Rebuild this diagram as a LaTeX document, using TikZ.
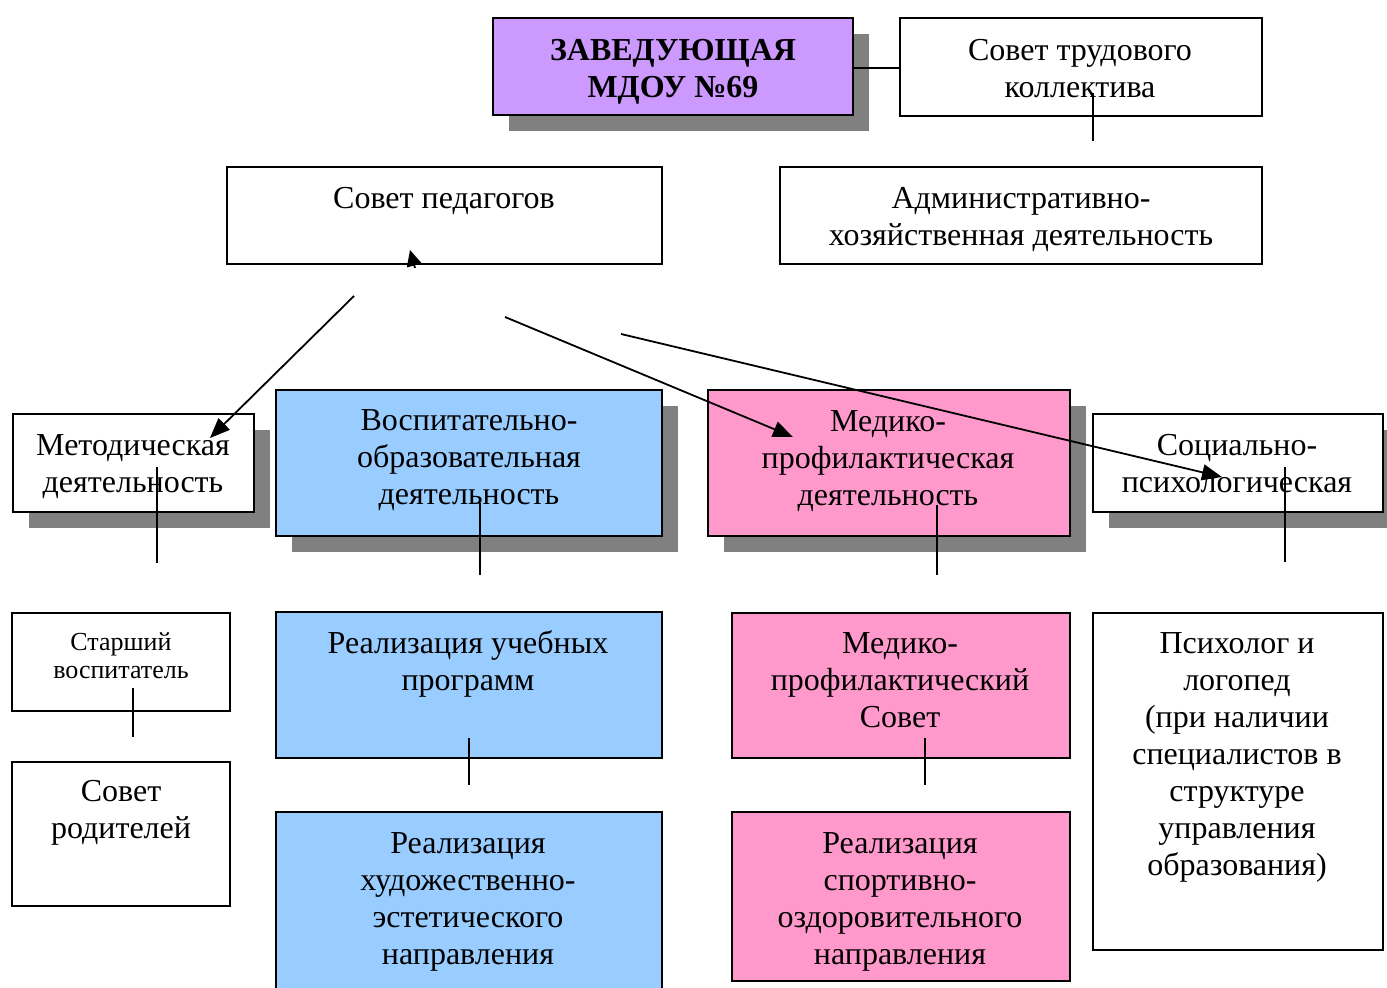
\documentclass[tikz,border=0pt]{standalone}
\usepackage{fontspec}
\setmainfont{Liberation Serif}
\usetikzlibrary{arrows.meta}
\definecolor{lav}{HTML}{CC99FF}
\definecolor{sky}{HTML}{99CCFF}
\definecolor{rose}{HTML}{FF99CC}
\definecolor{shad}{HTML}{808080}
\newcommand{\fs}{\rule{0pt}{0.8em}}
% name, x1, y1, x2, y2, fill
\newcommand{\orgbox}[6]{%
  \node[boxline, fill=#6, minimum width={(#4-#2)*0.5pt}, minimum height={(#5-#3)*0.5pt}]
    (#1) at ({(#2+#4)/2},{(#3+#5)/2}) {};}
\newcommand{\shbox}[6]{%
  \fill[shad] ({#2+16},{#3+16}) rectangle ({#4+16},{#5+16});
  \orgbox{#1}{#2}{#3}{#4}{#5}{#6}}
\begin{document}
\begin{tikzpicture}[x=0.5pt,y=-0.5pt,
  boxline/.style={draw=black, line width=1pt, inner sep=0pt, rectangle},
  txt/.style={inner sep=0pt, align=center, anchor=north, font=\fontsize{16}{18.5}\selectfont},
  boldtxt/.style={txt, font=\fontsize{16}{18.5}\selectfont\bfseries},
  smalltxt/.style={inner sep=0pt, align=center, anchor=north, font=\fontsize{13}{14}\selectfont},
  conn/.style={line width=0.9pt},
  arr/.style={conn, -{Triangle[length=10pt,width=8pt]}},
  smallarr/.style={conn, -{Triangle[length=8pt,width=7.5pt]}}
]
\useasboundingbox (0,0) rectangle (1387,988);
\fill[white] (0,0) rectangle (1387,988);

% top row
\shbox{zav}{493}{18}{853}{115}{lav}
\orgbox{stk}{900}{18}{1262}{116}{white}
\orgbox{sp}{227}{167}{662}{264}{white}
\orgbox{ahd}{780}{167}{1262}{264}{white}

% middle row
\shbox{met}{13}{414}{254}{512}{white}
\shbox{vos}{276}{390}{662}{536}{sky}
\shbox{mpd}{708}{390}{1070}{536}{rose}
\shbox{soc}{1093}{414}{1383}{512}{white}

% bottom rows
\orgbox{star}{12}{613}{230}{711}{white}
\orgbox{rod}{12}{762}{230}{906}{white}
\orgbox{rup}{276}{612}{662}{758}{sky}
\orgbox{rhe}{276}{812}{662}{1000}{sky}
\orgbox{mps}{732}{613}{1070}{758}{rose}
\orgbox{rso}{732}{812}{1070}{981}{rose}
\orgbox{psy}{1093}{613}{1383}{950}{white}

% texts
\node[boldtxt] (zavt) at (673,{60-25.6}) {\fs ЗАВЕДУЮЩАЯ\\МДОУ №69};
\node[txt] (stkt) at (1080,{60-25.6}) {\fs Совет трудового\\коллектива};
\node[txt] (spt) at (444,{208-25.6}) {\fs Совет педагогов};
\node[txt] (ahdt) at (1021,{208-25.6}) {\fs Административно-\\хозяйственная деятельность};
\node[txt] (mett) at (133,{455-25.6}) {\fs Методическая\\деятельность};
\node[txt] (vost) at (469,{430-25.6}) {\fs Воспитательно-\\образовательная\\деятельность};
\node[txt] (mpdt) at (888,{431-25.6}) {\fs Медико-\\профилактическая\\деятельность};
\node[txt] (soct) at (1237,{455-25.6}) {\fs Социально-\\психологическая};
\node[smalltxt] (start) at (121,{650-20.8}) {\fs Старший\\воспитатель};
\node[txt] (rodt) at (121,{801-25.6}) {\fs Совет\\родителей};
\node[txt] (rupt) at (468,{653-25.6}) {\fs Реализация учебных\\программ};
\node[txt] (rhet) at (468,{853-25.6}) {\fs Реализация\\художественно-\\эстетического\\направления};
\node[txt] (mpst) at (900,{653-25.6}) {\fs Медико-\\профилактический\\Совет};
\node[txt] (rsot) at (900,{853-25.6}) {\fs Реализация\\спортивно-\\оздоровительного\\направления};
\node[txt] (psyt) at (1237,{653-25.6}) {\fs Психолог и\\логопед\\(при наличии\\специалистов в\\структуре\\управления\\образования)};

% connector end points
\coordinate (s1) at (1093,93);  \coordinate (e1) at (1093,141);
\coordinate (a0s) at (415,268); \coordinate (a0e) at (410,250);
\coordinate (a1s) at (354,296); \coordinate (a1e) at (210,438);
\coordinate (a2s) at (505,317); \coordinate (a2e) at (793,437);
\coordinate (a3s) at (621,334); \coordinate (a3e) at (1222,477);
\coordinate (v1s) at (157,467); \coordinate (v1e) at (157,563);
\coordinate (v2s) at (480,503); \coordinate (v2e) at (480,575);
\coordinate (v3s) at (937,505); \coordinate (v3e) at (937,575);
\coordinate (v4s) at (1285,467); \coordinate (v4e) at (1285,562);
\coordinate (v5s) at (133,688); \coordinate (v5e) at (133,737);
\coordinate (v6s) at (469,738); \coordinate (v6e) at (469,785);
\coordinate (v7s) at (925,738); \coordinate (v7e) at (925,785);

% connectors
\draw[conn] (zav.east |- 0,68) -- (stk.west |- 0,68);
\draw[conn] (s1) -- (e1);
\draw[smallarr] (a0s) -- (a0e);
\draw[arr] (a1s) -- (a1e);
\draw[arr] (a2s) -- (a2e);
\draw[arr] (a3s) -- (a3e);
\foreach \i in {1,...,7} {\draw[conn] (v\i s) -- (v\i e);}
\end{tikzpicture}
\end{document}
